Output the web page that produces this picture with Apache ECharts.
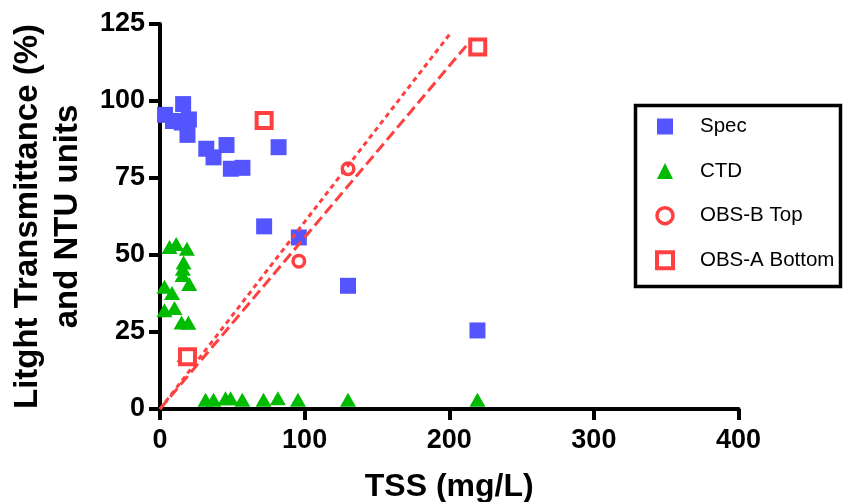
<!DOCTYPE html>
<html lang="en">
<head>
	<meta charset="UTF-8">
	<title>TSS</title>
	<script src="https://cdn.jsdelivr.net/npm/echarts@6/dist/echarts.min.js"></script>
	<style>
		html,body{margin:0;width:100%;height:100%;background:#fff;}
		#chart{width:845px;height:502px;}
	</style>
</head>
<body>
	<div id="chart"></div>
<script>
	// 数据
	var specData = [[3.5, 95.5], [9, 93.5], [15, 93], [16, 99], [20, 94], [19, 89], [32, 84.5], [37, 81.7],
		[46, 85.7], [49, 78], [57, 78.3], [82, 85], [72, 59.3], [96, 55.7], [130, 40], [219.5, 25.5]];
	var ctdData = [[6.6, 52.6], [11.2, 53.6], [18.6, 52], [16.3, 47.6], [15.8, 45.5], [15.6, 43.5], [20.2, 40.6],
		[3.1, 39.7], [8.3, 37.7], [3.1, 32.1], [10, 32.8], [14.9, 28.1], [19.6, 28], [17, 17.5],
		[31.5, 3], [37, 3], [45.3, 3.5], [48.8, 3.5], [56.9, 3], [71.6, 3], [81.5, 3.5], [95.4, 3], [130, 3], [219.5, 3]];
	var obsBData = [[19, 17], [96, 48], [130, 78]];
	var obsAData = [[19, 17], [72, 93.7], [219.7, 117.5]];
	// 拟合线两端
	var fitDotted = [[0, 0], [201, 122.1]];
	var fitDashed = [[0, 0], [216, 120.3]];
	var xTicks = [0, 100, 200, 300, 400];
	var yTicks = [0, 25, 50, 75, 100, 125];

	var blue = '#5555ff', green = '#00bb00', red = '#ff4040';
	var font = '"Liberation Sans", Arial, sans-serif';

	var myChart = echarts.init(document.getElementById('chart'));
	var options = {
		animation: false,
		textStyle: { fontFamily: font },
		grid: { left: 160, right: 106.5, top: 24, bottom: 93, outerBoundsMode: 'none', containLabel: false },
		graphic: [{
			type: 'rect',
			shape: { x: 635.5, y: 105.5, width: 205, height: 181 },
			style: { fill: 'none', stroke: '#000', lineWidth: 3.5 }
		}],
		legend: {
			orient: 'vertical',
			left: 655, top: 116,
			padding: 0,
			itemWidth: 16, itemHeight: 16,
			itemGap: 23.6,
			symbolKeepAspect: true,
			itemStyle: { borderWidth: 'inherit' },
			textStyle: { fontFamily: font, fontSize: 20.5, color: '#000', lineHeight: 20, padding: [0, 0, 0, 22] },
			data: ['Spec', 'CTD', 'OBS-B Top', 'OBS-A Bottom']
		},
		xAxis: {
			type: 'value', min: 0, max: 400, interval: 100,
			name: 'TSS (mg/L)', nameLocation: 'middle', nameGap: 62,
			nameTextStyle: { fontFamily: font, fontSize: 32, fontWeight: 'bold', color: '#000' },
			axisLine: { lineStyle: { color: '#000', width: 4 } },
			axisTick: { length: 11, lineStyle: { color: '#000', width: 4 } },
			axisLabel: { margin: 18, fontFamily: font, fontSize: 27, fontWeight: 'bold', color: '#000',
				formatter: function (v) { return xTicks.indexOf(v) >= 0 ? v : ''; } },
			splitLine: { show: false }
		},
		yAxis: {
			type: 'value', min: 0, max: 125, interval: 25,
			name: 'Litght Transmittance (%)\nand NTU units', nameLocation: 'middle', nameRotate: 90, nameGap: 72,
			nameTextStyle: { fontFamily: font, fontSize: 33, fontWeight: 'bold', color: '#000', lineHeight: 40 },
			axisLine: { lineStyle: { color: '#000', width: 4 } },
			axisTick: { length: 11, lineStyle: { color: '#000', width: 4 } },
			axisLabel: { margin: 15, fontFamily: font, fontSize: 27, fontWeight: 'bold', color: '#000',
				formatter: function (v) { return yTicks.indexOf(v) >= 0 ? v : ''; } },
			splitLine: { show: false }
		},
		series: [
			{ name: 'Spec', type: 'scatter', symbol: 'rect', symbolSize: 16,
				itemStyle: { color: blue, opacity: 1 }, data: specData },
			{ name: 'CTD', type: 'scatter', symbol: 'triangle', symbolSize: [16, 14],
				itemStyle: { color: green, opacity: 1 }, data: ctdData },
			{ name: 'fitDotted', type: 'line', symbol: 'none', silent: true,
				lineStyle: { color: red, width: 3, type: [5, 4] }, data: fitDotted },
			{ name: 'fitDashed', type: 'line', symbol: 'none', silent: true,
				lineStyle: { color: red, width: 3, type: [11, 5] }, data: fitDashed },
			{ name: 'OBS-B Top', type: 'scatter', symbol: 'circle', symbolSize: 11.5,
				itemStyle: { color: '#fff', borderColor: red, borderWidth: 3.5, opacity: 1 }, data: obsBData },
			{ name: 'OBS-A Bottom', type: 'scatter', symbol: 'rect', symbolSize: 15,
				itemStyle: { color: '#fff', borderColor: red, borderWidth: 4, opacity: 1 }, data: obsAData }
		]
	};
	myChart.setOption(options);
</script>
</body>
</html>
